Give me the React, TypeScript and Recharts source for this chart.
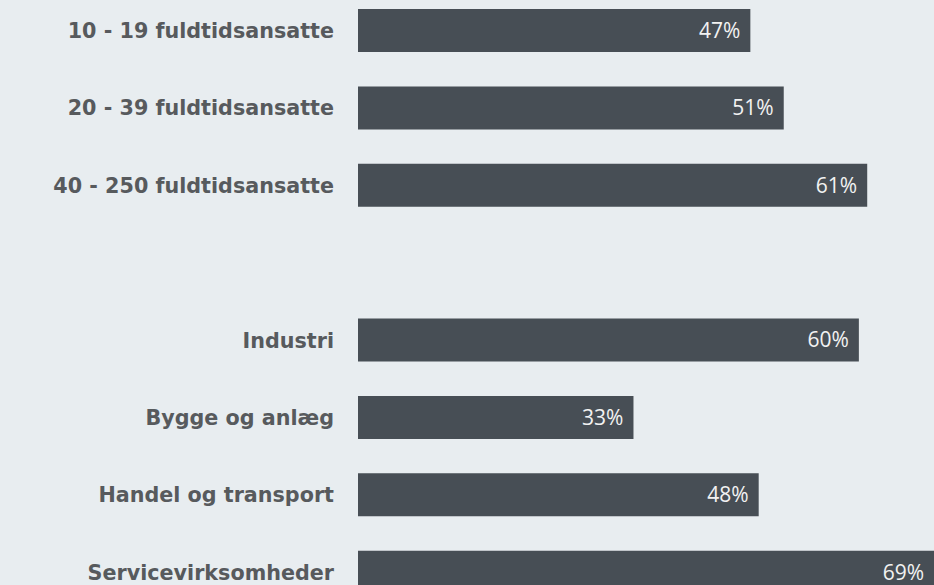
import { Bar, BarChart, LabelList, XAxis, YAxis } from "recharts";

const categories = [
  "10 - 19 fuldtidsansatte",
  "20 - 39 fuldtidsansatte",
  "40 - 250 fuldtidsansatte",
  "",
  "Industri",
  "Bygge og anlæg",
  "Handel og transport",
  "Servicevirksomheder",
];
const shares: (number | null)[] = [47, 51, 61, null, 60, 33, 48, 69];

const BG = "#e8edf0";
const BAR = "#474e55";
const LABEL = "#575a5d";

const data = categories.map((name, i) => ({ name, value: shares[i] }));

export default function App() {
  return (
    <div
      style={{
        position: "fixed",
        left: 0,
        top: 0,
        width: 934,
        height: 585,
        overflow: "hidden",
        background: BG,
      }}
    >
      <div style={{ position: "absolute", left: 0, top: -8 }}>
        <BarChart
          width={934}
          height={619}
          data={data}
          layout="vertical"
          margin={{ top: 0, right: 0, bottom: 0, left: 0 }}
        >
          <XAxis type="number" domain={[0, 69]} hide />
          <YAxis
            type="category"
            dataKey="name"
            width={358}
            axisLine={false}
            tickLine={false}
            tickMargin={18}
            interval={0}
            tick={{
              fill: LABEL,
              fontSize: 20.7,
              fontWeight: 700,
              fontFamily: "'DejaVu Sans', sans-serif",
            }}
          />
          <Bar dataKey="value" fill={BAR} barSize={43} isAnimationActive={false}>
            <LabelList
              dataKey="value"
              position="insideRight"
              offset={10}
              formatter={(v: unknown) => (v == null ? "" : `${v}%`)}
              fill="#f2f2f2"
              fontSize={21}
              fontFamily="'Open Sans', sans-serif"
            />
          </Bar>
        </BarChart>
      </div>
    </div>
  );
}
